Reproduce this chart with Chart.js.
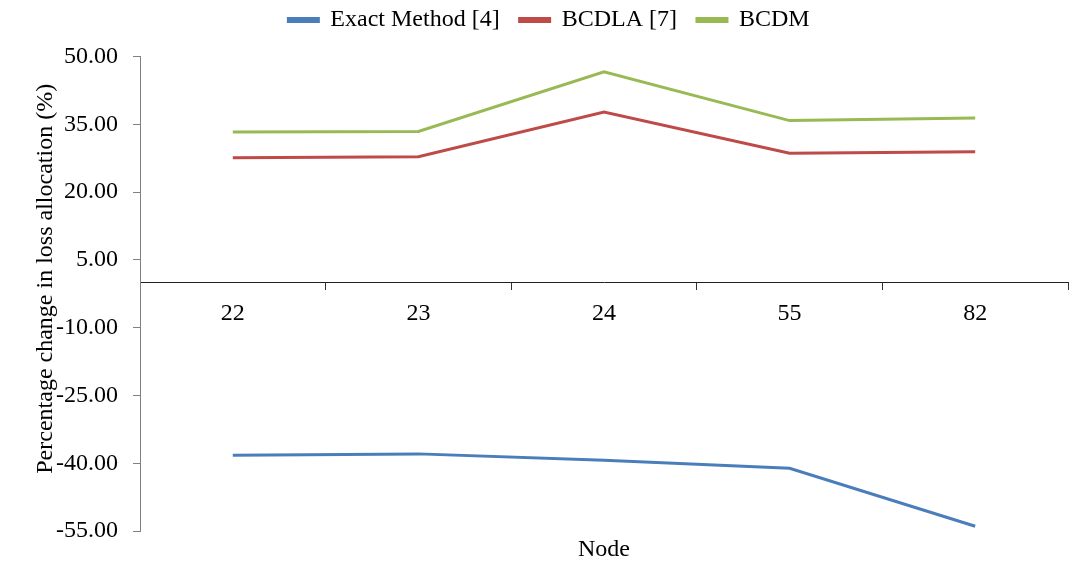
<!DOCTYPE html>
<html>
<head>
<meta charset="utf-8">
<script src="https://cdn.jsdelivr.net/npm/chart.js@4"></script>
<style>
  body { margin: 0; background: #fff; }
  #wrap { width: 1088px; height: 562px; }
</style>
</head>
<body>
<div id="wrap"><canvas id="loss-chart"></canvas></div>
<script>
var nodes = ['22', '23', '24', '55', '82'];
var exactMethod = [-38.2, -37.9, -39.3, -41.1, -53.9];
var bcdla = [27.6, 27.8, 37.7, 28.6, 28.9];
var bcdm = [33.3, 33.4, 46.6, 35.8, 36.4];

var yTitle = 'Percentage change in loss allocation (%)';

var fontFamily = '"Liberation Serif", "Times New Roman", serif';
Chart.defaults.font.family = fontFamily;
Chart.defaults.font.size = 24;
Chart.defaults.color = '#000';

// y axis title sits a bit above the middle of the plot, like the original
var yTitlePlugin = {
  id: 'yTitle',
  afterDraw: function (chart) {
    var c = chart.ctx;
    var area = chart.chartArea;
    c.save();
    c.translate(46, (area.top + area.bottom) / 2 - 15);
    c.rotate(-Math.PI / 2);
    c.font = '24px ' + fontFamily;
    c.fillStyle = '#000';
    c.textAlign = 'center';
    c.textBaseline = 'middle';
    c.fillText(yTitle, 0, 0);
    c.restore();
  }
};

var ctx = document.getElementById('loss-chart');
var chart = new Chart(ctx, {
  type: 'line',
  data: {
    labels: nodes,
    datasets: [{
      label: 'Exact Method [4]',
      data: exactMethod,
      borderColor: '#4a7ebb',
      backgroundColor: '#4a7ebb'
    }, {
      label: 'BCDLA [7]',
      data: bcdla,
      borderColor: '#be4b48',
      backgroundColor: '#be4b48'
    }, {
      label: 'BCDM',
      data: bcdm,
      borderColor: '#98b954',
      backgroundColor: '#98b954'
    }]
  },
  plugins: [yTitlePlugin],
  options: {
    responsive: true,
    maintainAspectRatio: false,
    animation: false,
    layout: { padding: { left: 30, right: 20, top: -12, bottom: -2 } },
    elements: {
      line: { borderWidth: 3, tension: 0 },
      point: { radius: 0, hoverRadius: 0 }
    },
    plugins: {
      tooltip: { enabled: false },
      legend: {
        position: 'top',
        labels: {
          boxWidth: 30,
          boxHeight: 3,
          padding: 20,
          font: { size: 24 }
        }
      },
      // empty spacer between the legend and the plot
      subtitle: {
        display: true,
        text: '',
        weight: 500,
        font: { size: 12 },
        padding: { top: 0, bottom: 0 }
      }
    },
    scales: {
      x: {
        type: 'category',
        position: { y: 0 },
        offset: true,
        grid: {
          offset: true,
          drawOnChartArea: false,
          drawTicks: true,
          tickLength: 7,
          color: '#333'
        },
        border: { display: true, color: '#222', width: 1 },
        ticks: { padding: 10, maxRotation: 0, font: { size: 24 } }
      },
      x2: {
        type: 'category',
        position: 'bottom',
        labels: nodes,
        grid: { display: false, drawTicks: false },
        border: { display: false },
        ticks: { display: false },
        title: {
          display: true,
          text: 'Node',
          padding: { top: 4, bottom: 0 },
          font: { size: 24 }
        }
      },
      y: {
        min: -55,
        max: 50,
        ticks: {
          stepSize: 15,
          padding: 15,
          font: { size: 24 },
          callback: function (value) { return Number(value).toFixed(2); }
        },
        grid: {
          drawOnChartArea: false,
          drawTicks: true,
          tickLength: 7,
          color: '#808080'
        },
        border: { display: true, color: '#808080', width: 1 },
        afterFit: function (scale) { scale.width = 110; }
      }
    }
  }
});
</script>
</body>
</html>
